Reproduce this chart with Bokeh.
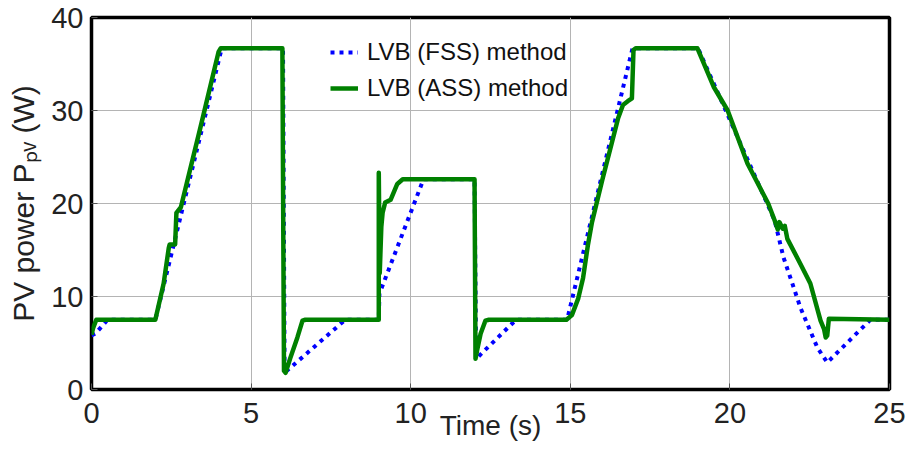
from bokeh.plotting import figure
from bokeh.models import Range1d, Legend, LegendItem, FixedTicker
from bokeh.embed import file_html
from bokeh.resources import INLINE

# PV power tracked by the fixed-step (FSS) and adaptive-step (ASS) LVB methods
t_fss = [0.0, 0.12, 0.43, 0.5, 2.0, 4.08, 6.0, 6.05, 7.95, 9.0, 9.02, 10.4, 12.0, 12.05,
         13.3, 14.9, 16.95, 19.0, 21.4, 21.68, 22.21, 22.74, 23.05, 24.4, 25.0]
p_fss = [5.8, 6.0, 7.2, 7.5, 7.5, 36.7, 36.7, 1.8, 7.5, 7.5, 10.3, 22.6, 22.6, 3.3,
         7.5, 7.5, 36.7, 36.7, 18.2, 14.2, 8.8, 4.5, 2.9, 7.5, 7.5]

t_ass = [0.0, 0.05, 0.15, 2.0, 2.26, 2.42, 2.45, 2.62, 2.66, 2.8, 3.4, 3.98, 4.05,
         5.98, 6.03, 6.08, 6.23, 6.45, 6.61, 6.7, 9.0, 9.0, 9.03, 9.08, 9.12, 9.2,
         9.37, 9.58, 9.75, 12.0, 12.03, 12.08, 12.19, 12.34, 12.45, 14.88, 15.05,
         15.25, 15.4, 15.55, 15.68, 16.0, 16.3, 16.5, 16.65, 16.8, 16.93, 16.98,
         17.05, 18.98, 19.5, 19.93, 20.55, 21.2, 21.4, 21.5, 21.55, 21.65, 21.72,
         21.8, 22.21, 22.52, 22.84, 22.95, 23.0, 23.05, 23.1, 25.0]
p_ass = [5.9, 6.6, 7.5, 7.5, 11.4, 15.2, 15.6, 15.6, 19.0, 19.6, 28.0, 36.3, 36.7,
         36.7, 2.0, 1.8, 3.4, 5.6, 7.4, 7.5, 7.5, 23.3, 12.5, 17.5, 19.0, 20.1,
         20.4, 22.1, 22.6, 22.6, 3.3, 4.2, 6.0, 7.4, 7.5, 7.5, 8.0,
         9.8, 12.0, 15.5, 18.0, 22.5, 26.5, 29.2, 30.6, 31.0, 31.3, 36.5,
         36.7, 36.7, 32.5, 30.0, 24.3, 20.0, 18.2, 17.2, 18.0, 17.3, 17.6,
         16.2, 13.5, 11.4, 7.4, 6.5, 5.6, 5.8, 7.6, 7.5]

x_ticks = [0, 5, 10, 15, 20, 25]
y_ticks = [0, 10, 20, 30, 40]

p = figure(width=908, height=451, output_backend="svg", toolbar_location=None,
           x_range=Range1d(0, 25), y_range=Range1d(0, 40),
           min_border_left=91, min_border_right=19, min_border_top=17,
           min_border_bottom=62)
p.background_fill_color = "white"
p.border_fill_color = "white"
p.outline_line_color = "black"
p.outline_line_width = 3.5

font = "Liberation Sans"
for ax in (p.xaxis[0], p.yaxis[0]):
    ax.axis_line_color = None
    ax.major_tick_in = 6
    ax.major_tick_out = 0
    ax.major_tick_line_color = "#555555"
    ax.minor_tick_line_color = None
    ax.major_label_text_font = font
    ax.major_label_text_font_size = "29px"
    ax.major_label_text_color = "#222222"
    ax.axis_label_text_font = font
    ax.axis_label_text_font_style = "normal"
    ax.axis_label_text_color = "#222222"
p.xaxis.ticker = FixedTicker(ticks=x_ticks)
p.yaxis.ticker = FixedTicker(ticks=y_ticks)
p.xaxis.major_label_standoff = 13
p.yaxis.major_label_standoff = 8

p.xaxis.axis_label = "Time (s)"
p.xaxis.axis_label_text_font_size = "28px"
p.xaxis.axis_label_standoff = -16

p.yaxis.axis_label = "PV power P\u209a\u1d65 (W)"
p.yaxis.axis_label_text_font_size = "30px"
p.yaxis.axis_label_standoff = 8

p.grid.grid_line_color = "#b4b4b4"
p.grid.grid_line_width = 1
p.xgrid.ticker = FixedTicker(ticks=x_ticks)
p.ygrid.ticker = FixedTicker(ticks=y_ticks)

r_fss = p.line(t_fss, p_fss, line_color="#0000ff", line_width=4, line_dash="4 5")
r_ass = p.line(t_ass, p_ass, line_color="#008000", line_width=4.5, line_join="round")

legend = Legend(items=[LegendItem(label="LVB (FSS) method", renderers=[r_fss]),
                       LegendItem(label="LVB (ASS) method", renderers=[r_ass])],
                location=(239, 283), border_line_color=None,
                background_fill_alpha=0, padding=0, margin=0, spacing=0,
                glyph_width=28, glyph_height=36, label_standoff=9,
                label_text_font=font, label_text_font_size="24px",
                label_text_color="#111111", label_height=36)
p.add_layout(legend)

open("out.html", "w").write(file_html(p, INLINE))
